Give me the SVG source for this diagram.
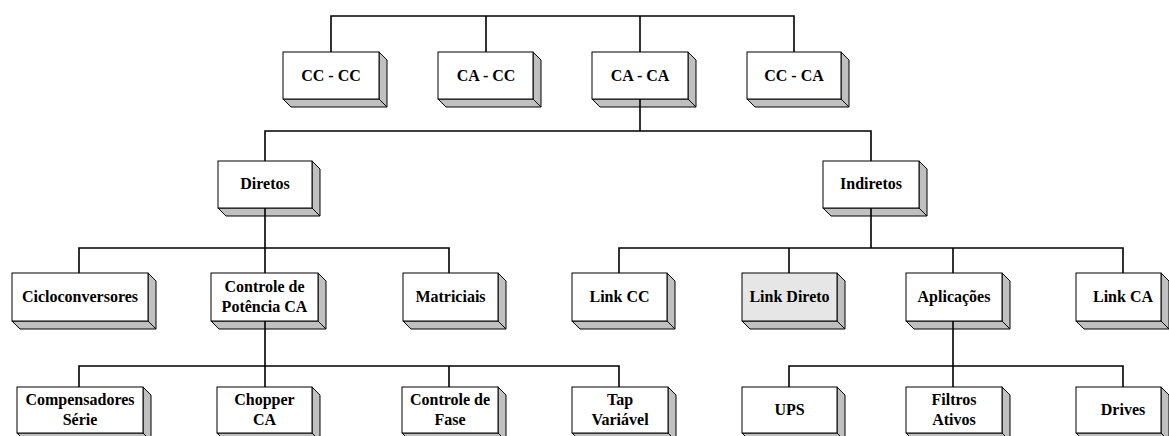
<svg xmlns="http://www.w3.org/2000/svg" width="1169" height="436" viewBox="0 0 1169 436">
<style>
.front{fill:#ffffff;stroke:#000;stroke-width:1}
.hl{fill:#e6e6e6;stroke:#000;stroke-width:1}
.side{fill:#c0c0c0;stroke:#000;stroke-width:1;stroke-linejoin:miter}
.lbl{font-family:"Liberation Serif","Times New Roman",serif;font-weight:bold;font-size:16px;text-anchor:middle;fill:#000}
.conn{fill:none;stroke:#000;stroke-width:1.6}
</style>
<rect width="1169" height="436" fill="#fff"/>
<!-- Top row -->
<g id="cc-cc"><polygon class="side" points="379,52 387,60 387,107 379,99"/><polygon class="side" points="283,99 291,107 387,107 379,99"/><rect class="front" x="283" y="52" width="96" height="47"/><text class="lbl" x="331" y="81">CC - CC</text></g>
<g id="ca-cc"><polygon class="side" points="533,52 541,60 541,107 533,99"/><polygon class="side" points="438,99 446,107 541,107 533,99"/><rect class="front" x="438" y="52" width="95" height="47"/><text class="lbl" x="486" y="81">CA - CC</text></g>
<g id="ca-ca"><polygon class="side" points="688,52 696,60 696,107 688,99"/><polygon class="side" points="592,99 600,107 696,107 688,99"/><rect class="front" x="592" y="52" width="96" height="47"/><text class="lbl" x="640" y="81">CA - CA</text></g>
<g id="cc-ca"><polygon class="side" points="841,52 849,60 849,107 841,99"/><polygon class="side" points="747,99 755,107 849,107 841,99"/><rect class="front" x="747" y="52" width="94" height="47"/><text class="lbl" x="794" y="81">CC - CA</text></g>
<!-- Row 1 -->
<g id="diretos"><polygon class="side" points="312,161 320,169 320,216 312,208"/><polygon class="side" points="218,208 226,216 320,216 312,208"/><rect class="front" x="218" y="161" width="94" height="47"/><text class="lbl" x="265" y="189">Diretos</text></g>
<g id="indiretos"><polygon class="side" points="919,161 927,169 927,216 919,208"/><polygon class="side" points="823,208 831,216 927,216 919,208"/><rect class="front" x="823" y="161" width="96" height="47"/><text class="lbl" x="871" y="189">Indiretos</text></g>
<!-- Row 2 -->
<g id="cicloconversores"><polygon class="side" points="148,273 156,281 156,329 148,321"/><polygon class="side" points="12,321 20,329 156,329 148,321"/><rect class="front" x="12" y="273" width="136" height="48"/><text class="lbl" x="80" y="302">Cicloconversores</text></g>
<g id="controle-potencia"><polygon class="side" points="318,273 326,281 326,329 318,321"/><polygon class="side" points="211,321 219,329 326,329 318,321"/><rect class="front" x="211" y="273" width="107" height="48"/><text class="lbl" x="264.5" y="292">Controle de</text><text class="lbl" x="264.5" y="312">Potência CA</text></g>
<g id="matriciais"><polygon class="side" points="498,273 506,281 506,329 498,321"/><polygon class="side" points="403,321 411,329 506,329 498,321"/><rect class="front" x="403" y="273" width="95" height="48"/><text class="lbl" x="450.5" y="302">Matriciais</text></g>
<g id="link-cc"><polygon class="side" points="667,273 675,281 675,329 667,321"/><polygon class="side" points="572,321 580,329 675,329 667,321"/><rect class="front" x="572" y="273" width="95" height="48"/><text class="lbl" x="619.5" y="302">Link CC</text></g>
<g id="link-direto"><polygon class="side" points="837,273 845,281 845,329 837,321"/><polygon class="side" points="742,321 750,329 845,329 837,321"/><rect class="hl" x="742" y="273" width="95" height="48"/><text class="lbl" x="789.5" y="302">Link Direto</text></g>
<g id="aplicacoes"><polygon class="side" points="1002,273 1010,281 1010,329 1002,321"/><polygon class="side" points="906,321 914,329 1010,329 1002,321"/><rect class="front" x="906" y="273" width="96" height="48"/><text class="lbl" x="954" y="302">Aplicações</text></g>
<g id="link-ca"><polygon class="side" points="1161,273 1169,281 1169,329 1161,321"/><polygon class="side" points="1076,321 1084,329 1169,329 1161,321"/><rect class="front" x="1076" y="273" width="85" height="48"/><text class="lbl" x="1123" y="302">Link CA</text></g>
<!-- Row 3 -->
<g id="compensadores"><polygon class="side" points="143,387 151,395 151,441 143,433"/><polygon class="side" points="17,433 25,441 151,441 143,433"/><rect class="front" x="17" y="387" width="126" height="46"/><text class="lbl" x="80" y="405">Compensadores</text><text class="lbl" x="80" y="425">Série</text></g>
<g id="chopper-ca"><polygon class="side" points="312,387 320,395 320,441 312,433"/><polygon class="side" points="217,433 225,441 320,441 312,433"/><rect class="front" x="217" y="387" width="95" height="46"/><text class="lbl" x="264.5" y="405">Chopper</text><text class="lbl" x="264.5" y="425">CA</text></g>
<g id="controle-fase"><polygon class="side" points="498,387 506,395 506,441 498,433"/><polygon class="side" points="402,433 410,441 506,441 498,433"/><rect class="front" x="402" y="387" width="96" height="46"/><text class="lbl" x="450" y="405">Controle de</text><text class="lbl" x="450" y="425">Fase</text></g>
<g id="tap-variavel"><polygon class="side" points="668,387 676,395 676,441 668,433"/><polygon class="side" points="572,433 580,441 676,441 668,433"/><rect class="front" x="572" y="387" width="96" height="46"/><text class="lbl" x="620" y="405">Tap</text><text class="lbl" x="620" y="425">Variável</text></g>
<g id="ups"><polygon class="side" points="837,387 845,395 845,441 837,433"/><polygon class="side" points="742,433 750,441 845,441 837,433"/><rect class="front" x="742" y="387" width="95" height="46"/><text class="lbl" x="789.5" y="415">UPS</text></g>
<g id="filtros-ativos"><polygon class="side" points="1002,387 1010,395 1010,441 1002,433"/><polygon class="side" points="906,433 914,441 1010,441 1002,433"/><rect class="front" x="906" y="387" width="96" height="46"/><text class="lbl" x="954" y="405">Filtros</text><text class="lbl" x="954" y="425">Ativos</text></g>
<g id="drives"><polygon class="side" points="1161,387 1169,395 1169,441 1161,433"/><polygon class="side" points="1076,433 1084,441 1169,441 1161,433"/><rect class="front" x="1076" y="387" width="85" height="46"/><text class="lbl" x="1123" y="415">Drives</text></g>
<!-- Connectors -->
<g id="connectors">
<path class="conn" d="M331,52V16H794V52M486,16V52M640,16V52"/>
<path class="conn" d="M640,99V131M265,161V131H871V161"/>
<path class="conn" d="M265,208V248M79,273V248H449V273M265,248V273"/>
<path class="conn" d="M871,208V248M619,273V248H1123V273M789,248V273M953,248V273"/>
<path class="conn" d="M265,321V366M79,387V366H619V387M265,366V387M449,366V387"/>
<path class="conn" d="M953,321V366M789,387V366H1123V387M953,366V387"/>
</g>
</svg>
